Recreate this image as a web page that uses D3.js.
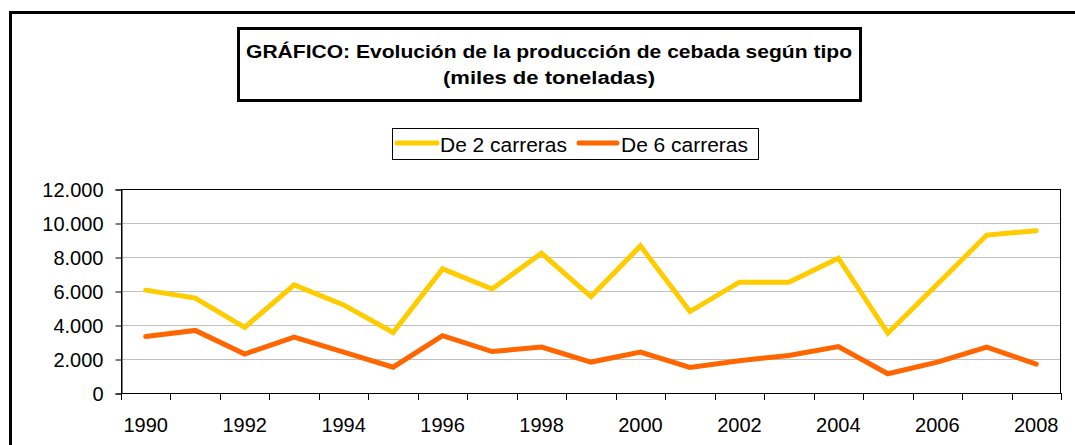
<!DOCTYPE html>
<html>
<head>
<meta charset="utf-8">
<script src="https://cdn.jsdelivr.net/npm/d3@7/dist/d3.min.js"></script>
<style>
  html, body { margin: 0; padding: 0; background: #fff; }
  svg { display: block; font-family: Arial, "Liberation Sans", sans-serif; }
</style>
</head>
<body>
<svg id="chart" width="1075" height="445"></svg>
<script>
const years = [1990,1991,1992,1993,1994,1995,1996,1997,1998,1999,2000,2001,2002,2003,2004,2005,2006,2007,2008];
const dos = [6050,5580,3860,6360,5180,3560,7300,6120,8220,5670,8650,4790,6520,6520,7930,3520,6400,9290,9550];
const seis = [3320,3680,2290,3290,2400,1520,3370,2440,2700,1820,2410,1500,1900,2210,2730,1130,1820,2700,1700];
const yTicks = [0,2000,4000,6000,8000,10000,12000];
const xLabels = [1990,1992,1994,1996,1998,2000,2002,2004,2006,2008];
const seriesNames = ["De 2 carreras","De 6 carreras"];
const colors = ["#FFCC00","#FF6600"];
const titleLines = ["GRÁFICO: Evolución de la producción de cebada según tipo","(miles de toneladas)"];

(function(){
const svg = d3.select("#chart");

// outer frame (extends beyond right/bottom edges)
svg.append("rect").attr("x",10.5).attr("y",12.5).attr("width",1200).attr("height",600)
  .attr("fill","none").attr("stroke","#000").attr("stroke-width",3);

// title box
svg.append("rect").attr("x",238.5).attr("y",28.5).attr("width",622).attr("height",72)
  .attr("fill","#fff").attr("stroke","#000").attr("stroke-width",3);
const titleW = [606, 212];
svg.selectAll("text.title").data(titleLines).enter().append("text")
  .attr("class","title")
  .attr("x",549).attr("y",(d,i)=>57.5+i*26)
  .attr("text-anchor","middle").attr("font-weight","bold").attr("font-size",17.5)
  .attr("textLength",(d,i)=>titleW[i]).attr("lengthAdjust","spacingAndGlyphs")
  .text(d=>d);

// plot area
const pL = 121, pR = 1061, pT = 189, pB = 393;
const x = d3.scaleBand().domain(years).range([pL,pR]);
const y = d3.scaleLinear().domain([0,12000]).range([pB,pT]);

// gridlines
svg.append("g").selectAll("line").data(yTicks.filter(d=>d>0)).enter().append("line")
  .attr("x1",pL).attr("x2",pR).attr("y1",d=>Math.round(y(d))+0.5).attr("y2",d=>Math.round(y(d))+0.5)
  .attr("stroke","#c0c0c0").attr("stroke-width",1);

// plot border
svg.append("rect").attr("x",pL+0.5).attr("y",pT+0.5).attr("width",pR-pL-1).attr("height",pB-pT)
  .attr("fill","none").attr("stroke","#000").attr("stroke-width",1);

// y axis
const yAxis = d3.axisLeft(y).tickValues(yTicks).tickSize(6).tickPadding(12)
  .tickFormat(d=>d3.format(",")(d).replace(/,/g,"."));
const gy = svg.append("g").attr("transform",`translate(${pL+0.5},0.5)`).call(yAxis);
gy.select(".domain").attr("stroke","#000");
gy.selectAll(".tick line").attr("stroke","#000");
gy.selectAll("text").attr("font-size",20).attr("fill","#000").attr("font-family","Arial, 'Liberation Sans', sans-serif").attr("dy","0.36em");

// x axis: ticks at band boundaries
const xb = d3.scaleLinear().domain([0,years.length]).range([pL,pR]);
const gx = svg.append("g");
gx.append("line").attr("x1",pL).attr("x2",pR).attr("y1",pB+0.5).attr("y2",pB+0.5).attr("stroke","#000");
gx.selectAll("line.tk").data(d3.range(years.length+1)).enter().append("line")
  .attr("class","tk")
  .attr("x1",d=>Math.round(xb(d))+0.5).attr("x2",d=>Math.round(xb(d))+0.5)
  .attr("y1",pB).attr("y2",pB+7).attr("stroke","#000");
gx.selectAll("text").data(xLabels).enter().append("text")
  .attr("x",d=>x(d)+x.bandwidth()/2).attr("y",432)
  .attr("text-anchor","middle").attr("font-size",20).text(d=>d);

// lines
const line = d3.line().x((d,i)=>x(years[i])+x.bandwidth()/2).y(d=>y(d));
[dos,seis].forEach((s,k)=>{
  svg.append("path").datum(s).attr("d",line).attr("fill","none")
    .attr("stroke",colors[k]).attr("stroke-width",5)
    .attr("stroke-linejoin","miter").attr("stroke-linecap","round");
});

// legend
svg.append("rect").attr("x",392.5).attr("y",128.5).attr("width",366).attr("height",31)
  .attr("fill","#fff").attr("stroke","#000").attr("stroke-width",1);
const legX = [[397,437,440],[579,617,621]];
seriesNames.forEach((n,k)=>{
  svg.append("line").attr("x1",legX[k][0]).attr("x2",legX[k][1]).attr("y1",143).attr("y2",143)
    .attr("stroke",colors[k]).attr("stroke-width",5).attr("stroke-linecap","round");
  svg.append("text").attr("x",legX[k][2]).attr("y",151.5).attr("font-size",20.5)
    .attr("textLength",127).attr("lengthAdjust","spacingAndGlyphs").text(n);
});
})();
</script>
</body>
</html>
